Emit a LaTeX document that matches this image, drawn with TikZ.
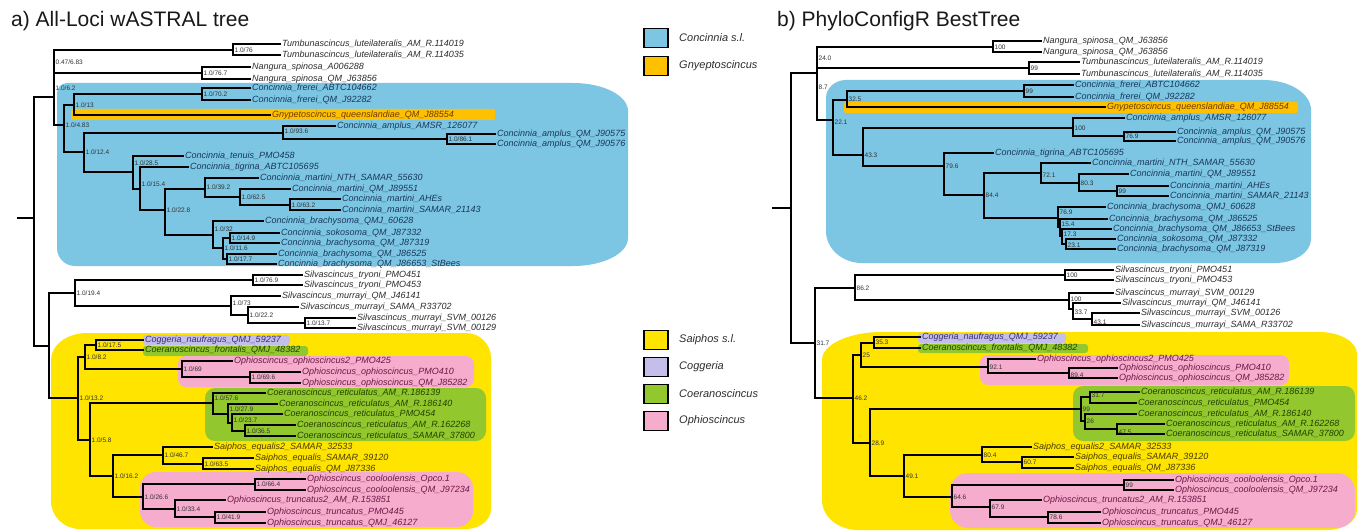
\documentclass[tikz,border=0pt]{standalone}
\usepackage{fontspec}
\setmainfont{Liberation Sans}
\definecolor{cblue}{RGB}{124,198,228}
\definecolor{corange}{RGB}{255,192,0}
\definecolor{cyellow}{RGB}{255,228,0}
\definecolor{clav}{RGB}{196,190,235}
\definecolor{cgreen}{RGB}{146,200,45}
\definecolor{cpink}{RGB}{245,172,205}
\definecolor{tblue}{RGB}{25,55,90}
\definecolor{tyel}{RGB}{70,60,0}
\definecolor{tpink}{RGB}{110,25,70}
\definecolor{tgreen}{RGB}{35,65,0}
\definecolor{torange}{RGB}{110,60,0}
\definecolor{tlav}{RGB}{55,45,110}
\definecolor{tgray}{RGB}{45,45,45}
\tikzset{
 br/.style={line width=1.35pt, draw=black, line cap=rect},
 tipt/.style={anchor=west, inner sep=0pt, text height=6.4pt, text depth=1.8pt, font=\fontsize{9}{9}\selectfont\itshape},
 sup/.style={anchor=west, inner sep=0pt, text height=4.7pt, text depth=0pt, text=black!80, font=\fontsize{6.5}{6.5}\selectfont},
 legbox/.style={draw=black, line width=1.1pt, minimum width=24pt, minimum height=19pt, inner sep=0pt},
 legtext/.style={anchor=west, inner sep=0pt, text=tgray, font=\fontsize{11}{11}\selectfont\itshape},
 ttl/.style={anchor=base west, inner sep=0pt, text=black!90, font=\fontsize{21}{21}\selectfont},
}
\newcommand\TNode[3]{\coordinate (#1) at (#2,#3);}
\newcommand\TLab[3][0]{\node[sup] (#2l) at ([xshift=1.5pt,yshift=#1pt]#2) {#3};}
\newcommand\TTip[5][tgray]{\coordinate (#2) at (#3,#4);\node[tipt,text=#1] (#2t) at ([xshift=2pt]#2) {#5};}
\newcommand\TEs[2]{\foreach \kid in {#2}{\draw[br] (#1) |- (\kid);}}
\begin{document}
\begin{tikzpicture}[x=1pt,y=-1pt]
\useasboundingbox (0,0) rectangle (1364,532);
\fill[white] (0,0) rectangle (1364,532);
% ---------------- regions, tree a
\fill[cblue] (57,93) arc[start angle=180,end angle=270,radius=10] -- (573,83) arc[start angle=-90,end angle=0,x radius=55,y radius=28] -- (628,238) arc[start angle=0,end angle=90,x radius=55,y radius=28] -- (75,266) arc[start angle=90,end angle=180,radius=18] -- cycle;
\fill[corange,rounded corners=2pt] (71,109) rectangle (495,120);
\fill[cyellow] (51,360) arc[start angle=180,end angle=270,x radius=36,y radius=27] -- (466,333) arc[start angle=-90,end angle=0,x radius=25,y radius=25] -- (491,509) arc[start angle=0,end angle=90,x radius=25,y radius=20] -- (80,529) arc[start angle=90,end angle=180,x radius=29,y radius=28] -- cycle;
\fill[clav,rounded corners=3pt] (143,335) rectangle (290,345);
\fill[cgreen,rounded corners=3pt] (143,346) rectangle (308,356);
\fill[cpink,rounded corners=8pt] (178,356) rectangle (474,387);
\fill[cgreen,rounded corners=10pt] (205,388) rectangle (486,441);
\fill[cpink,rounded corners=16pt] (140,472) rectangle (473,527);
% ---------------- regions, tree b
\fill[cblue] (826,98) arc[start angle=180,end angle=270,x radius=20,y radius=18] -- (1263,80) arc[start angle=-90,end angle=0,x radius=48,y radius=30] -- (1311,239) arc[start angle=0,end angle=90,x radius=36,y radius=24] -- (862,263) arc[start angle=90,end angle=180,x radius=36,y radius=32] -- cycle;
\fill[corange,rounded corners=2pt] (844,102) rectangle (1298,113);
\fill[cyellow] (822,360) arc[start angle=180,end angle=270,x radius=60,y radius=28] -- (1319,332) arc[start angle=-90,end angle=0,x radius=38,y radius=22] -- (1357,510) arc[start angle=0,end angle=90,x radius=30,y radius=20] -- (858,530) arc[start angle=90,end angle=180,x radius=36,y radius=30] -- cycle;
\fill[clav,rounded corners=3pt] (918,333) rectangle (1066,343);
\fill[cgreen,rounded corners=3pt] (918,344) rectangle (1088,353);
\fill[cpink,rounded corners=8pt] (980,355) rectangle (1289,385);
\fill[cgreen,rounded corners=10pt] (1073,386) rectangle (1355,441);
\fill[cpink,rounded corners=18pt] (950,473) rectangle (1355,528);
% ---------------- titles
\node[ttl] (ttlA) at (11,27) {a) All-Loci wASTRAL tree};
\node[ttl] (ttlB) at (777,27) {b) PhyloConfigR BestTree};
% ---------------- legend
\node[legbox,fill=cblue] (lg1) at (656,38) {};
\node[legtext] (lg1t) at (679,38) {Concinnia s.l.};
\node[legbox,fill=corange] (lg2) at (656,66) {};
\node[legtext] (lg2t) at (679,66) {Gnyeptoscincus};
\node[legbox,fill=cyellow] (lg3) at (656,340) {};
\node[legtext] (lg3t) at (679,340) {Saiphos s.l.};
\node[legbox,fill=clav] (lg4) at (656,367) {};
\node[legtext] (lg4t) at (679,367) {Coggeria};
\node[legbox,fill=cgreen] (lg5) at (656,394) {};
\node[legtext] (lg5t) at (679,394) {Coeranoscincus};
\node[legbox,fill=cpink] (lg6) at (656,421) {};
\node[legtext] (lg6t) at (679,421) {Ophioscincus};
% ================= TREE A
\TNode{rA0}{18}{218}\TNode{rA}{34}{218}
\TNode{QA}{54}{97}\TNode{PA}{54}{62}
\TNode{BA}{49}{346}
\TNode{TUa}{233}{50}
\TTip{ta1}{280}{44}{Tumbunascincus\_luteilateralis\_AM\_R.114019}
\TTip{ta2}{280}{55}{Tumbunascincus\_luteilateralis\_AM\_R.114035}
\TNode{NAa}{202}{73}
\TTip{ta3}{250}{67}{Nangura\_spinosa\_A006288}
\TTip{ta4}{250}{79}{Nangura\_spinosa\_QM\_J63856}
\TNode{C1a}{64}{125}
\TNode{F1a}{74}{105}
\TNode{FRa}{202}{94}
\TTip[tblue]{ta5}{250}{88}{Concinnia\_frerei\_ABTC104662}
\TTip[tblue]{ta6}{250}{100}{Concinnia\_frerei\_QM\_J92282}
\TTip[torange]{ta7}{270}{115}{Gnypetoscincus\_queenslandiae\_QM\_J88554}
\TNode{C2a}{84}{152}
\TNode{AMa}{283}{133}
\TTip[tblue]{ta8}{335}{126}{Concinnia\_amplus\_AMSR\_126077}
\TNode{AM2a}{447}{139}
\TTip[tblue]{ta9}{495}{134}{Concinnia\_amplus\_QM\_J90575}
\TTip[tblue]{ta10}{495}{144}{Concinnia\_amplus\_QM\_J90576}
\TNode{TGa}{133}{172}
\TTip[tblue]{ta11}{183}{156}{Concinnia\_tenuis\_PMO458}
\TNode{TG2a}{140}{189}
\TTip[tblue]{ta12}{188}{167}{Concinnia\_tigrina\_ABTC105695}
\TNode{MBa}{165}{210}
\TNode{MTa}{205}{189}
\TTip[tblue]{ta13}{258}{178}{Concinnia\_martini\_NTH\_SAMAR\_55630}
\TNode{MT2a}{240}{197}
\TTip[tblue]{ta14}{290}{189}{Concinnia\_martini\_QM\_J89551}
\TNode{MT3a}{290}{205}
\TTip[tblue]{ta15}{340}{199}{Concinnia\_martini\_AHEs}
\TTip[tblue]{ta16}{340}{210}{Concinnia\_martini\_SAMAR\_21143}
\TNode{BRa}{213}{235}
\TTip[tblue]{ta17}{263}{221}{Concinnia\_brachysoma\_QMJ\_60628}
\TNode{BZa}{223}{248}
\TNode{BWa}{230}{238}
\TTip[tblue]{ta18}{279}{233}{Concinnia\_sokosoma\_QM\_J87332}
\TTip[tblue]{ta19}{279}{243}{Concinnia\_brachysoma\_QM\_J87319}
\TNode{BVa}{227}{259}
\TTip[tblue]{ta20}{276}{254}{Concinnia\_brachysoma\_QM\_J86525}
\TTip[tblue]{ta21}{276}{264}{Concinnia\_brachysoma\_QM\_J86653\_StBees}
\TNode{SVa}{75}{293}
\TNode{TRa}{253}{280}
\TTip{ta22}{302}{275}{Silvascincus\_tryoni\_PMO451}
\TTip{ta23}{302}{285}{Silvascincus\_tryoni\_PMO453}
\TNode{MUa}{231}{306}
\TTip{ta24}{280}{296}{Silvascincus\_murrayi\_QM\_J46141}
\TNode{MU2a}{248}{315}
\TTip{ta25}{298}{307}{Silvascincus\_murrayi\_SAMA\_R33702}
\TNode{MU3a}{305}{323}
\TTip{ta26}{355}{318}{Silvascincus\_murrayi\_SVM\_00126}
\TTip{ta27}{355}{328}{Silvascincus\_murrayi\_SVM\_00129}
\TNode{SPa}{78}{398}
\TNode{S1a}{85}{357}
\TNode{CGa}{96}{345}
\TTip[tlav]{ta28}{143}{340}{Coggeria\_naufragus\_QMJ\_59237}
\TTip[tgreen]{ta29}{143}{350}{Coeranoscincus\_frontalis\_QMJ\_48382}
\TNode{OPa}{182}{369}
\TTip[tpink]{ta30}{232}{361}{Ophioscincus\_ophioscincus2\_PMO425}
\TNode{OP2a}{250}{377}
\TTip[tpink]{ta31}{300}{372}{Ophioscincus\_ophioscincus\_PMO410}
\TTip[tpink]{ta32}{300}{383}{Ophioscincus\_ophioscincus\_QM\_J85282}
\TNode{S5a}{90}{440}
\TNode{CRa}{213}{403}
\TTip[tgreen]{ta33}{265}{393}{Coeranoscincus\_reticulatus\_AM\_R.186139}
\TNode{CR2a}{228}{414}
\TTip[tgreen]{ta34}{277}{404}{Coeranoscincus\_reticulatus\_AM\_R.186140}
\TNode{CR3a}{232}{423}
\TTip[tgreen]{ta35}{282}{414}{Coeranoscincus\_reticulatus\_PMO454}
\TNode{CR4a}{245}{431}
\TTip[tgreen]{ta36}{295}{425}{Coeranoscincus\_reticulatus\_AM\_R.162268}
\TTip[tgreen]{ta37}{295}{436}{Coeranoscincus\_reticulatus\_SAMAR\_37800}
\TNode{S6a}{113}{476}
\TNode{SAa}{163}{455}
\TTip[tyel]{ta38}{212}{447}{Saiphos\_equalis2\_SAMAR\_32533}
\TNode{SA2a}{203}{464}
\TTip[tyel]{ta39}{253}{458}{Saiphos\_equalis\_SAMAR\_39120}
\TTip[tyel]{ta40}{253}{469}{Saiphos\_equalis\_QM\_J87336}
\TNode{OLa}{143}{497}
\TNode{COa}{255}{484}
\TTip[tpink]{ta41}{305}{479}{Ophioscincus\_cooloolensis\_Opco.1}
\TTip[tpink]{ta42}{305}{490}{Ophioscincus\_cooloolensis\_QM\_J97234}
\TNode{TR2a}{175}{509}
\TTip[tpink]{ta43}{225}{500}{Ophioscincus\_truncatus2\_AM\_R.153851}
\TNode{TR3a}{215}{517}
\TTip[tpink]{ta44}{265}{512}{Ophioscincus\_truncatus\_PMO445}
\TTip[tpink]{ta45}{265}{523}{Ophioscincus\_truncatus\_QMJ\_46127}
% edges a
\draw[br] (rA0) -- (rA);
\TEs{rA}{QA,BA}
\TEs{QA}{PA,C1a}
\TEs{PA}{TUa,NAa}
\TEs{TUa}{ta1,ta2}
\TEs{NAa}{ta3,ta4}
\TEs{C1a}{F1a,C2a}
\TEs{F1a}{FRa,ta7}
\TEs{FRa}{ta5,ta6}
\TEs{C2a}{AMa,TGa}
\TEs{AMa}{ta8,AM2a}
\TEs{AM2a}{ta9,ta10}
\TEs{TGa}{ta11,TG2a}
\TEs{TG2a}{ta12,MBa}
\TEs{MBa}{MTa,BRa}
\TEs{MTa}{ta13,MT2a}
\TEs{MT2a}{ta14,MT3a}
\TEs{MT3a}{ta15,ta16}
\TEs{BRa}{ta17,BZa}
\TEs{BZa}{BWa,BVa}
\TEs{BWa}{ta18,ta19}
\TEs{BVa}{ta20,ta21}
\TEs{BA}{SVa,SPa}
\TEs{SVa}{TRa,MUa}
\TEs{TRa}{ta22,ta23}
\TEs{MUa}{ta24,MU2a}
\TEs{MU2a}{ta25,MU3a}
\TEs{MU3a}{ta26,ta27}
\TEs{SPa}{S1a,S5a}
\TEs{S1a}{CGa,OPa}
\TEs{CGa}{ta28,ta29}
\TEs{OPa}{ta30,OP2a}
\TEs{OP2a}{ta31,ta32}
\TEs{S5a}{CRa,S6a}
\TEs{CRa}{ta33,CR2a}
\TEs{CR2a}{ta34,CR3a}
\TEs{CR3a}{ta35,CR4a}
\TEs{CR4a}{ta36,ta37}
\TEs{S6a}{SAa,OLa}
\TEs{SAa}{ta38,SA2a}
\TEs{SA2a}{ta39,ta40}
\TEs{OLa}{COa,TR2a}
\TEs{COa}{ta41,ta42}
\TEs{TR2a}{ta43,TR3a}
\TEs{TR3a}{ta44,ta45}
% labels a
\TLab{PA}{0.47/6.83}
\TLab[9]{QA}{1.0/6.2}
\TLab{TUa}{1.0/76}
\TLab{NAa}{1.0/76.7}
\TLab{FRa}{1.0/70.2}
\TLab{F1a}{1.0/13}
\TLab{C1a}{1.0/4.83}
\TLab{C2a}{1.0/12.4}
\TLab[2]{AMa}{1.0/93.6}
\TLab{AM2a}{1.0/86.1}
\TLab[9]{TGa}{1.0/28.5}
\TLab[5]{TG2a}{1.0/15.4}
\TLab{MBa}{1.0/22.8}
\TLab[2]{MTa}{1.0/39.2}
\TLab{MT2a}{1.0/62.5}
\TLab{MT3a}{1.0/63.2}
\TLab[6]{BRa}{1.0/32}
\TLab{BWa}{1.0/14.9}
\TLab{BZa}{1.0/11.6}
\TLab{BVa}{1.0/17.7}
\TLab{SVa}{1.0/19.4}
\TLab{TRa}{1.0/76.9}
\TLab[3]{MUa}{1.0/73}
\TLab{MU2a}{1.0/22.2}
\TLab{MU3a}{1.0/13.7}
\TLab{SPa}{1.0/13.2}
\TLab{S1a}{1.0/8.2}
\TLab{CGa}{1.0/17.5}
\TLab{OPa}{1.0/69}
\TLab{OP2a}{1.0/69.6}
\TLab{S5a}{1.0/5.8}
\TLab[5]{CRa}{1.0/57.6}
\TLab[5]{CR2a}{1.0/27.9}
\TLab[3]{CR3a}{1.0/23.7}
\TLab{CR4a}{1.0/36.5}
\TLab{S6a}{1.0/16.2}
\TLab{SAa}{1.0/46.7}
\TLab{SA2a}{1.0/63.5}
\TLab{OLa}{1.0/26.6}
\TLab{COa}{1.0/66.4}
\TLab{TR2a}{1.0/33.4}
\TLab{TR3a}{1.0/41.9}
% ================= TREE B
\TNode{rB0}{773}{208}\TNode{rB}{791}{208}
\TNode{QB}{817}{73}\TNode{PB}{817}{58}
\TNode{LB}{815}{343}
\TNode{NAb}{993}{47}
\TTip{tb1}{1041}{41}{Nangura\_spinosa\_QM\_J63856}
\TTip{tb2}{1041}{52}{Nangura\_spinosa\_QM\_J63856}
\TNode{TUb}{1029}{68}
\TTip{tb3}{1079}{62}{Tumbunascincus\_luteilateralis\_AM\_R.114019}
\TTip{tb4}{1079}{74}{Tumbunascincus\_luteilateralis\_AM\_R.114035}
\TNode{CBb}{833}{120}
\TNode{FGb}{847}{100}
\TNode{FRb}{1024}{91}
\TTip[tblue]{tb5}{1073}{85}{Concinnia\_frerei\_ABTC104662}
\TTip[tblue]{tb6}{1073}{97}{Concinnia\_frerei\_QM\_J92282}
\TTip[torange]{tb7}{1105}{107}{Gnypetoscincus\_queenslandiae\_QM\_J88554}
\TNode{CB2b}{863}{155}
\TNode{AMb}{1073}{128}
\TTip[tblue]{tb8}{1124}{118}{Concinnia\_amplus\_AMSR\_126077}
\TNode{AM2b}{1124}{136}
\TTip[tblue]{tb9}{1175}{132}{Concinnia\_amplus\_QM\_J90575}
\TTip[tblue]{tb10}{1175}{141}{Concinnia\_amplus\_QM\_J90576}
\TNode{TGb}{944}{166}
\TTip[tblue]{tb11}{993}{153}{Concinnia\_tigrina\_ABTC105695}
\TNode{MBb}{984}{195}
\TNode{MTb}{1041}{173}
\TTip[tblue]{tb12}{1090}{163}{Concinnia\_martini\_NTH\_SAMAR\_55630}
\TNode{MT2b}{1079}{183}
\TTip[tblue]{tb13}{1128}{174}{Concinnia\_martini\_QM\_J89551}
\TNode{MT3b}{1117}{191}
\TTip[tblue]{tb14}{1168}{186}{Concinnia\_martini\_AHEs}
\TTip[tblue]{tb15}{1168}{196}{Concinnia\_martini\_SAMAR\_21143}
\TNode{BR1b}{1058}{218}
\TTip[tblue]{tb16}{1105}{207}{Concinnia\_brachysoma\_QMJ\_60628}
\TNode{BR2b}{1060}{227}
\TTip[tblue]{tb17}{1107}{219}{Concinnia\_brachysoma\_QM\_J86525}
\TNode{BR3b}{1062}{236}
\TTip[tblue]{tb18}{1111}{229}{Concinnia\_brachysoma\_QM\_J86653\_StBees}
\TNode{BR4b}{1066}{244}
\TTip[tblue]{tb19}{1115}{239}{Concinnia\_sokosoma\_QM\_J87332}
\TTip[tblue]{tb20}{1115}{249}{Concinnia\_brachysoma\_QM\_J87319}
\TNode{SVb}{855}{288}
\TNode{TRb}{1065}{275}
\TTip{tb21}{1113}{270}{Silvascincus\_tryoni\_PMO451}
\TTip{tb22}{1113}{280}{Silvascincus\_tryoni\_PMO453}
\TNode{MUb}{1069}{300}
\TTip{tb23}{1113}{293}{Silvascincus\_murrayi\_SVM\_00129}
\TNode{MU2b}{1073}{309}
\TTip{tb24}{1120}{303}{Silvascincus\_murrayi\_QM\_J46141}
\TNode{MU3b}{1092}{319}
\TTip{tb25}{1139}{313}{Silvascincus\_murrayi\_SVM\_00126}
\TTip{tb26}{1139}{325}{Silvascincus\_murrayi\_SAMA\_R33702}
\TNode{B46b}{853}{398}
\TNode{B25b}{861}{355}
\TNode{CGb}{874}{343}
\TTip[tlav]{tb27}{920}{337}{Coggeria\_naufragus\_QMJ\_59237}
\TTip[tgreen]{tb28}{920}{348}{Coeranoscincus\_frontalis\_QMJ\_48382}
\TNode{OPb}{988}{367}
\TTip[tpink]{tb29}{1035}{359}{Ophioscincus\_ophioscincus2\_PMO425}
\TNode{OP2b}{1069}{373}
\TTip[tpink]{tb30}{1117}{368}{Ophioscincus\_ophioscincus\_PMO410}
\TTip[tpink]{tb31}{1117}{378}{Ophioscincus\_ophioscincus\_QM\_J85282}
\TNode{B289b}{870}{443}
\TNode{CRb}{1081}{409}
\TNode{CR1b}{1090}{397}
\TTip[tgreen]{tb32}{1139}{392}{Coeranoscincus\_reticulatus\_AM\_R.186139}
\TTip[tgreen]{tb33}{1136}{403}{Coeranoscincus\_reticulatus\_PMO454}
\TNode{CR2b}{1085}{421}
\TTip[tgreen]{tb34}{1136}{414}{Coeranoscincus\_reticulatus\_AM\_R.186140}
\TNode{CR3b}{1117}{429}
\TTip[tgreen]{tb35}{1164}{424}{Coeranoscincus\_reticulatus\_AM\_R.162268}
\TTip[tgreen]{tb36}{1164}{434}{Coeranoscincus\_reticulatus\_SAMAR\_37800}
\TNode{B491b}{904}{476}
\TNode{SAb}{982}{455}
\TTip[tyel]{tb37}{1031}{447}{Saiphos\_equalis2\_SAMAR\_32533}
\TNode{SA2b}{1022}{462}
\TTip[tyel]{tb38}{1073}{457}{Saiphos\_equalis\_SAMAR\_39120}
\TTip[tyel]{tb39}{1073}{468}{Saiphos\_equalis\_QM\_J87336}
\TNode{OLb}{952}{497}
\TNode{COb}{1124}{485}
\TTip[tpink]{tb40}{1173}{480}{Ophioscincus\_cooloolensis\_Opco.1}
\TTip[tpink]{tb41}{1173}{490}{Ophioscincus\_cooloolensis\_QM\_J97234}
\TNode{TR2b}{990}{507}
\TTip[tpink]{tb42}{1041}{500}{Ophioscincus\_truncatus2\_AM\_R.153851}
\TNode{TR3b}{1048}{517}
\TTip[tpink]{tb43}{1100}{512}{Ophioscincus\_truncatus\_PMO445}
\TTip[tpink]{tb44}{1100}{523}{Ophioscincus\_truncatus\_QMJ\_46127}
% edges b
\draw[br] (rB0) -- (rB);
\TEs{rB}{QB,LB}
\TEs{QB}{PB,CBb}
\TEs{PB}{NAb,TUb}
\TEs{NAb}{tb1,tb2}
\TEs{TUb}{tb3,tb4}
\TEs{CBb}{FGb,CB2b}
\TEs{FGb}{FRb,tb7}
\TEs{FRb}{tb5,tb6}
\TEs{CB2b}{AMb,TGb}
\TEs{AMb}{tb8,AM2b}
\TEs{AM2b}{tb9,tb10}
\TEs{TGb}{tb11,MBb}
\TEs{MBb}{MTb,BR1b}
\TEs{MTb}{tb12,MT2b}
\TEs{MT2b}{tb13,MT3b}
\TEs{MT3b}{tb14,tb15}
\TEs{BR1b}{tb16,BR2b}
\TEs{BR2b}{tb17,BR3b}
\TEs{BR3b}{tb18,BR4b}
\TEs{BR4b}{tb19,tb20}
\TEs{LB}{SVb,B46b}
\TEs{SVb}{TRb,MUb}
\TEs{TRb}{tb21,tb22}
\TEs{MUb}{tb23,MU2b}
\TEs{MU2b}{tb24,MU3b}
\TEs{MU3b}{tb25,tb26}
\TEs{B46b}{B25b,B289b}
\TEs{B25b}{CGb,OPb}
\TEs{CGb}{tb27,tb28}
\TEs{OPb}{tb29,OP2b}
\TEs{OP2b}{tb30,tb31}
\TEs{B289b}{CRb,B491b}
\TEs{CRb}{CR1b,CR2b}
\TEs{CR1b}{tb32,tb33}
\TEs{CR2b}{tb34,CR3b}
\TEs{CR3b}{tb35,tb36}
\TEs{B491b}{SAb,OLb}
\TEs{SAb}{tb37,SA2b}
\TEs{SA2b}{tb38,tb39}
\TEs{OLb}{COb,TR2b}
\TEs{COb}{tb40,tb41}
\TEs{TR2b}{tb42,TR3b}
\TEs{TR3b}{tb43,tb44}
% labels b
\TLab{PB}{24.0}
\TLab[-14]{QB}{8.7}
\TLab{NAb}{100}
\TLab{TUb}{99}
\TLab{FRb}{99}
\TLab[1]{FGb}{32.5}
\TLab[-2]{CBb}{22.1}
\TLab{CB2b}{43.3}
\TLab{AMb}{100}
\TLab{AM2b}{76.9}
\TLab{TGb}{79.6}
\TLab{MBb}{84.4}
\TLab[-2]{MTb}{72.1}
\TLab{MT2b}{80.3}
\TLab{MT3b}{99}
\TLab[6]{BR1b}{76.9}
\TLab[3]{BR2b}{15.4}
\TLab[2]{BR3b}{17.3}
\TLab[-1]{BR4b}{23.1}
\TLab{LB}{31.7}
\TLab{SVb}{86.2}
\TLab{TRb}{100}
\TLab[1]{MUb}{100}
\TLab[-3]{MU2b}{33.7}
\TLab[-3]{MU3b}{43.1}
\TLab{B46b}{46.2}
\TLab{B25b}{25}
\TLab[1]{CGb}{35.3}
\TLab{OPb}{92.1}
\TLab[-2]{OP2b}{89.4}
\TLab{B289b}{28.9}
\TLab{CRb}{99}
\TLab[2]{CR1b}{31.7}
\TLab{CR2b}{26}
\TLab[-3]{CR3b}{47.5}
\TLab{B491b}{49.1}
\TLab{SAb}{80.4}
\TLab{SA2b}{60.7}
\TLab{OLb}{64.6}
\TLab{COb}{99}
\TLab{TR2b}{67.9}
\TLab{TR3b}{78.6}
\end{tikzpicture}
\end{document}
